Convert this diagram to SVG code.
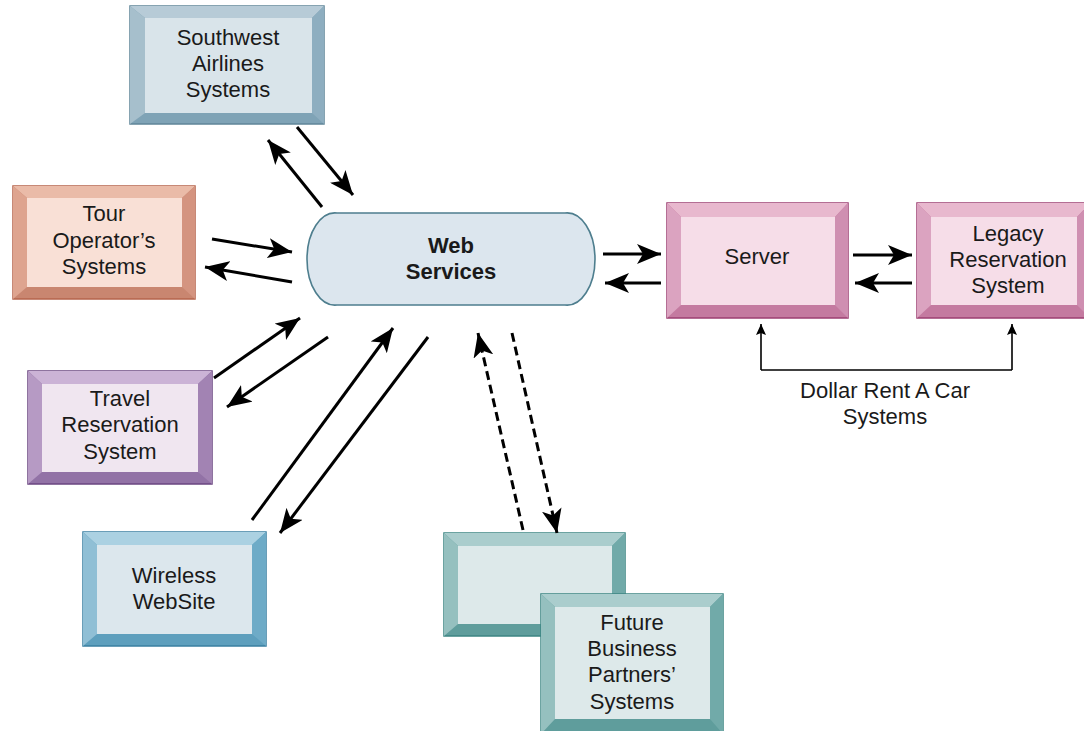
<svg xmlns="http://www.w3.org/2000/svg" width="1084" height="731" viewBox="0 0 1084 731">
<style>
text{font-family:"Liberation Sans",Arial,sans-serif;font-size:22px;fill:#1a1a1a;text-anchor:middle}
.bold{font-weight:bold;font-size:22px}
.blue .o{fill:#7fa3b6;stroke:#5f8598;stroke-width:1.5}.blue .t{fill:#b7cbd7}.blue .l{fill:#a6bfcc}.blue .r{fill:#8eaec0}.blue .f{fill:#d9e4ea}
.tour .o{fill:#c98670;stroke:#b5634b;stroke-width:1.5}.tour .t{fill:#eabba8}.tour .l{fill:#dea48f}.tour .r{fill:#d49480}.tour .f{fill:#f9e0d6}
.pink .o{fill:#c47aa0;stroke:#9c3f72;stroke-width:1.5}.pink .t{fill:#e8b8ce}.pink .l{fill:#dba3c0}.pink .r{fill:#cf8fb1}.pink .f{fill:#f6dde8}
.purp .o{fill:#9272a6;stroke:#6a4680;stroke-width:1.5}.purp .t{fill:#cbb3d6}.purp .l{fill:#b69ac4}.purp .r{fill:#a283b3}.purp .f{fill:#f0e6f0}
.wire .o{fill:#5e9fbd;stroke:#3a7fa1;stroke-width:1.5}.wire .t{fill:#abd1e2}.wire .l{fill:#90bfd5}.wire .r{fill:#6eabc7}.wire .f{fill:#dce7ed}
.teal .o{fill:#5f9d9c;stroke:#3d8583;stroke-width:1.5}.teal .t{fill:#aacdcd}.teal .l{fill:#95c0bf}.teal .r{fill:#71aaa9}.teal .f{fill:#dde9ea}
.ar{stroke:#000;stroke-width:3;fill:none;marker-end:url(#ah)}
.da{stroke-dasharray:9 5}
.br{stroke:#000;stroke-width:1.6;fill:none}
</style>
<defs>
<marker id="ah" markerUnits="userSpaceOnUse" markerWidth="26" markerHeight="20" refX="24" refY="10" orient="auto" viewBox="0 0 26 20">
<path d="M0,0 L24,10 L0,20 L6,10 Z" fill="#000"/>
</marker>
<marker id="sa" markerUnits="userSpaceOnUse" markerWidth="12" markerHeight="10" refX="11" refY="5" orient="auto" viewBox="0 0 12 10">
<path d="M0,0 L11,5 L0,10 L2,5 Z" fill="#000"/>
</marker>
</defs>

<g id="southwest" class="blue">
<rect class="o" x="130" y="6" width="194" height="118"/>
<polygon class="t" points="130,6 324,6 312,18 145,18"/>
<polygon class="l" points="130,6 145,18 145,113 130,124"/>
<polygon class="r" points="324,6 324,124 312,113 312,18"/>
<rect class="f" x="145" y="18" width="167" height="95"/>
<text x="228" y="45">Southwest</text><text x="228" y="71">Airlines</text><text x="228" y="97">Systems</text>
</g>

<g id="tour" class="tour">
<rect class="o" x="13" y="186" width="182" height="113"/>
<polygon class="t" points="13,186 195,186 182,198 27,198"/>
<polygon class="l" points="13,186 27,198 27,287 13,299"/>
<polygon class="r" points="195,186 195,299 182,287 182,198"/>
<rect class="f" x="27" y="198" width="155" height="89"/>
<text x="104" y="221">Tour</text><text x="104" y="248">Operator’s</text><text x="104" y="274">Systems</text>
</g>

<g id="travel" class="purp">
<rect class="o" x="28" y="371" width="184" height="113"/>
<polygon class="t" points="28,371 212,371 198,384 42,384"/>
<polygon class="l" points="28,371 42,384 42,472 28,484"/>
<polygon class="r" points="212,371 212,484 198,472 198,384"/>
<rect class="f" x="42" y="384" width="156" height="88"/>
<text x="120" y="406">Travel</text><text x="120" y="432">Reservation</text><text x="120" y="459">System</text>
</g>

<g id="wireless" class="wire">
<rect class="o" x="83" y="532" width="183" height="114"/>
<polygon class="t" points="83,532 266,532 252,545 97,545"/>
<polygon class="l" points="83,532 97,545 97,634 83,646"/>
<polygon class="r" points="266,532 266,646 252,634 252,545"/>
<rect class="f" x="97" y="545" width="155" height="89"/>
<text x="174" y="583">Wireless</text><text x="174" y="609">WebSite</text>
</g>

<g id="webservices">
<path d="M337,213 L565,213 A28,46 0 0 1 595,259 A28,46 0 0 1 565,305 L337,305 A28,46 0 0 1 307,259 A28,46 0 0 1 337,213 Z" fill="#dce6ee" stroke="#4e7e8e" stroke-width="1.6"/>
<text class="bold" x="451" y="253">Web</text><text class="bold" x="451" y="279">Services</text>
</g>

<g id="server" class="pink">
<rect class="o" x="667" y="203" width="181" height="115"/>
<polygon class="t" points="667,203 848,203 835,217 681,217"/>
<polygon class="l" points="667,203 681,217 681,305 667,318"/>
<polygon class="r" points="848,203 848,318 835,305 835,217"/>
<rect class="f" x="681" y="217" width="154" height="88"/>
<text x="757" y="264">Server</text>
</g>

<g id="legacy" class="pink">
<rect class="o" x="917" y="203" width="173" height="115"/>
<polygon class="t" points="917,203 1090,203 1077,217 931,217"/>
<polygon class="l" points="917,203 931,217 931,305 917,318"/>
<polygon class="r" points="1090,203 1090,318 1077,305 1077,217"/>
<rect class="f" x="931" y="217" width="146" height="88"/>
<text x="1008" y="241">Legacy</text><text x="1008" y="267">Reservation</text><text x="1008" y="293">System</text>
</g>

<g id="future-back" class="teal">
<rect class="o" x="444" y="533" width="181" height="103"/>
<polygon class="t" points="444,533 625,533 612,546 458,546"/>
<polygon class="l" points="444,533 458,546 458,624 444,636"/>
<polygon class="r" points="625,533 625,636 612,624 612,546"/>
<rect class="f" x="458" y="546" width="154" height="78"/>
</g>

<g id="future" class="teal">
<rect class="o" x="541" y="594" width="182" height="140"/>
<polygon class="t" points="541,594 723,594 710,607 555,607"/>
<polygon class="l" points="541,594 555,607 555,719 541,734"/>
<polygon class="r" points="723,594 723,734 710,719 710,607"/>
<rect class="f" x="555" y="607" width="155" height="112"/>
<text x="632" y="630">Future</text><text x="632" y="656">Business</text><text x="632" y="682">Partners’</text><text x="632" y="709">Systems</text>
</g>

<g id="connectors">
<line class="ar" x1="322" y1="207" x2="268" y2="140"/>
<line class="ar" x1="297" y1="127" x2="353" y2="195"/>
<line class="ar" x1="212" y1="239" x2="292" y2="252"/>
<line class="ar" x1="292" y1="282" x2="205" y2="267"/>
<line class="ar" x1="214" y1="378" x2="300" y2="318"/>
<line class="ar" x1="328" y1="337" x2="227" y2="407"/>
<line class="ar" x1="252" y1="520" x2="393" y2="328"/>
<line class="ar" x1="428" y1="337" x2="280" y2="533"/>
<line class="ar da" x1="523" y1="530" x2="478" y2="333"/>
<line class="ar da" x1="512" y1="333" x2="557" y2="533"/>
<line class="ar" x1="603" y1="254" x2="661" y2="254"/>
<line class="ar" x1="661" y1="283" x2="605" y2="283"/>
<line class="ar" x1="853" y1="255" x2="912" y2="255"/>
<line class="ar" x1="912" y1="283" x2="855" y2="283"/>
<polyline class="br" points="761,370 1012,370"/>
<line class="br" x1="761" y1="370" x2="761" y2="324" marker-end="url(#sa)"/>
<line class="br" x1="1012" y1="370" x2="1012" y2="324" marker-end="url(#sa)"/>
</g>
<g id="label">
<text x="885" y="398">Dollar Rent A Car</text><text x="885" y="424">Systems</text>
</g>
</svg>
